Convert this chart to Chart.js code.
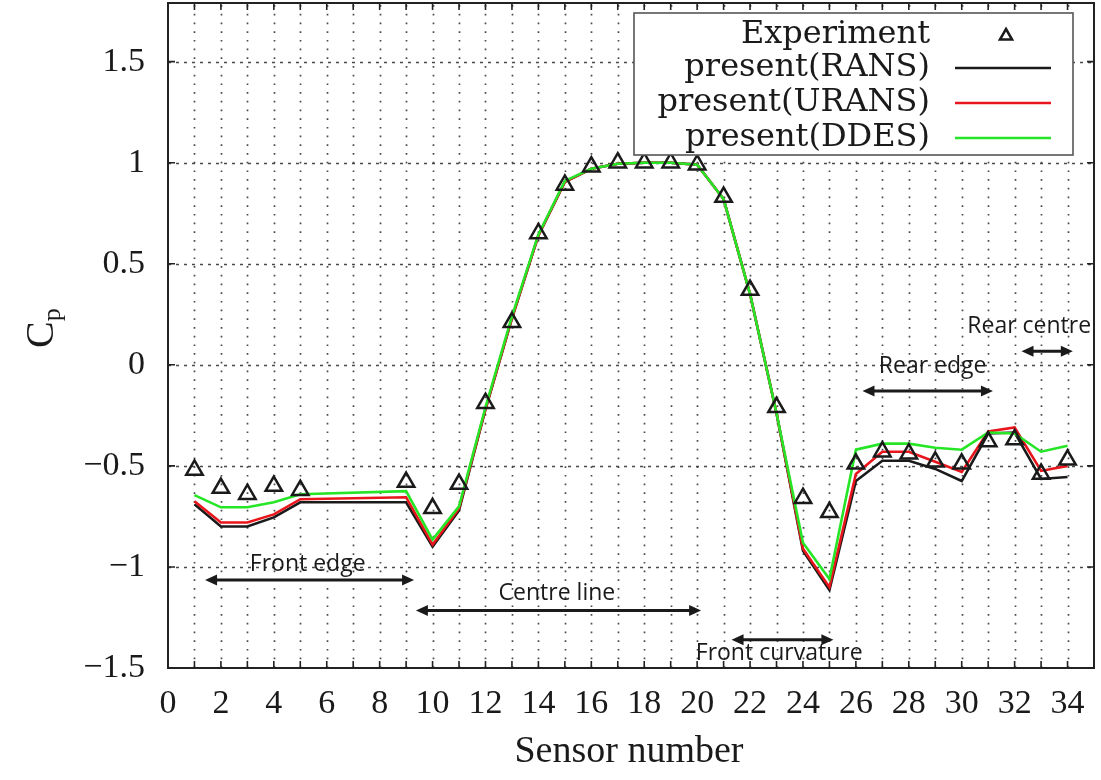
<!DOCTYPE html>
<html>
<head>
<meta charset="utf-8">
<script src="https://cdn.jsdelivr.net/npm/chart.js@4.4.1/dist/chart.umd.min.js"></script>
<style>
  html, body { margin: 0; padding: 0; background: #fff; }
  #wrap { width: 1101px; height: 780px; }
</style>
</head>
<body>
<div id="wrap"><canvas id="c" width="1101" height="780"></canvas></div>
<script>
// Pressure coefficient along the sensor line
const sensors    = [1, 2, 3, 4, 5, 9, 10, 11, 12, 13, 14, 15, 16, 17, 18, 19, 20, 21, 22, 23, 24, 25, 26, 27, 28, 29, 30, 31, 32, 33, 34];
const experiment = [-0.52, -0.61, -0.64, -0.60, -0.62, -0.58, -0.71, -0.59, -0.19, 0.21, 0.65, 0.89, 0.98, 1.0, 1.0, 1.0, 0.99, 0.83, 0.37, -0.21, -0.66, -0.73, -0.49, -0.43, -0.44, -0.48, -0.49, -0.38, -0.37, -0.54, -0.47];
const rans       = [-0.69, -0.80, -0.80, -0.755, -0.68, -0.68, -0.90, -0.72, -0.22, 0.23, 0.64, 0.905, 0.97, 0.995, 1.0, 1.0, 0.99, 0.82, 0.35, -0.24, -0.92, -1.115, -0.575, -0.475, -0.475, -0.515, -0.575, -0.34, -0.335, -0.565, -0.555];
const urans      = [-0.675, -0.78, -0.78, -0.74, -0.665, -0.655, -0.89, -0.71, -0.22, 0.23, 0.64, 0.905, 0.97, 0.995, 1.0, 1.0, 0.99, 0.82, 0.35, -0.24, -0.91, -1.10, -0.54, -0.43, -0.43, -0.48, -0.53, -0.33, -0.31, -0.525, -0.50];
const ddes       = [-0.645, -0.705, -0.705, -0.68, -0.64, -0.625, -0.865, -0.70, -0.21, 0.24, 0.645, 0.91, 0.97, 0.995, 1.0, 1.0, 0.99, 0.82, 0.35, -0.24, -0.88, -1.06, -0.42, -0.39, -0.39, -0.41, -0.42, -0.335, -0.34, -0.43, -0.40];

const xTickValues = [0, 2, 4, 6, 8, 10, 12, 14, 16, 18, 20, 22, 24, 26, 28, 30, 32, 34];
const yTickValues = [-1.5, -1, -0.5, 0, 0.5, 1, 1.5];
const seriesNames = ['Experiment', 'present(RANS)', 'present(URANS)', 'present(DDES)'];

// Sensor groups: label and span (in sensor number / Cp units)
const regions = [
  { text: 'Front edge',      tx: 5.28,  ty: -0.99, x0: 1.4,   x1: 9.3,   ay: -1.065 },
  { text: 'Centre line',     tx: 14.7,  ty: -1.13, x0: 9.37,  x1: 20.15, ay: -1.215 },
  { text: 'Front curvature', tx: 23.1,  ty: -1.43, x0: 21.3,  x1: 25.15, ay: -1.36 },
  { text: 'Rear edge',       tx: 28.9,  ty: -0.01, x0: 26.25, x1: 31.18, ay: -0.13 },
  { text: 'Rear centre',     tx: 32.55, ty: 0.19,  x0: 32.26, x1: 34.2,  ay: 0.067 }
];

const COL_EXP = '#1a1a1a';
const COL_RANS = '#1a1a1a';
const COL_URANS = '#e8161c';
const COL_DDES = '#26e526';

const pts = arr => sensors.map((s, i) => ({ x: s, y: arr[i] }));
const fmt = v => (v < 0 ? '\u2212' : '') + String(Math.abs(v));

function arrowHead(ctx, x, y, dir) {
  ctx.beginPath();
  ctx.moveTo(x, y);
  ctx.lineTo(x - dir * 12, y - 5.5);
  ctx.lineTo(x - dir * 12, y + 5.5);
  ctx.closePath();
  ctx.fill();
}

const decor = {
  id: 'decor',
  beforeDatasetsDraw(chart) {
    const { ctx, chartArea: a, scales: { x, y } } = chart;
    ctx.save();
    ctx.strokeStyle = '#4a4a4a';
    ctx.lineWidth = 1.7;
    // vertical dotted grid at every sensor
    ctx.setLineDash([1.7, 7]);
    for (let v = 1; v < 35; v++) {
      const px = Math.round(x.getPixelForValue(v)) + 0.5;
      ctx.beginPath(); ctx.moveTo(px, a.bottom); ctx.lineTo(px, a.top); ctx.stroke();
    }
    // horizontal dashed grid
    ctx.setLineDash([3, 5]);
    for (const v of yTickValues) {
      if (v <= -1.5) continue;
      const py = Math.round(y.getPixelForValue(v)) + 0.5;
      ctx.beginPath(); ctx.moveTo(a.left, py); ctx.lineTo(a.right, py); ctx.stroke();
    }
    ctx.restore();
  },
  afterDatasetsDraw(chart) {
    const { ctx, chartArea: a, scales: { x, y } } = chart;
    ctx.save();
    // frame
    ctx.strokeStyle = '#222';
    ctx.lineWidth = 2;
    ctx.strokeRect(a.left, a.top, a.right - a.left, a.bottom - a.top);
    // inward tick marks
    ctx.lineWidth = 1.6;
    for (let v = 0; v <= 35; v++) {
      const px = x.getPixelForValue(v);
      ctx.beginPath();
      ctx.moveTo(px, a.bottom); ctx.lineTo(px, a.bottom - 7);
      ctx.moveTo(px, a.top); ctx.lineTo(px, a.top + 7);
      ctx.stroke();
    }
    for (const v of yTickValues) {
      const py = y.getPixelForValue(v);
      ctx.beginPath();
      ctx.moveTo(a.left, py); ctx.lineTo(a.left + 7, py);
      ctx.moveTo(a.right, py); ctx.lineTo(a.right - 7, py);
      ctx.stroke();
    }

    // sensor-group arrows and labels
    ctx.fillStyle = '#1a1a1a';
    ctx.strokeStyle = '#1a1a1a';
    ctx.lineWidth = 3;
    ctx.font = '23px "Open Sans", "Noto Sans", sans-serif';
    ctx.textAlign = 'center';
    ctx.textBaseline = 'middle';
    for (const r of regions) {
      const x0 = x.getPixelForValue(r.x0), x1 = x.getPixelForValue(r.x1);
      const ay = y.getPixelForValue(r.ay);
      ctx.beginPath(); ctx.moveTo(x0 + 8, ay); ctx.lineTo(x1 - 8, ay); ctx.stroke();
      arrowHead(ctx, x0, ay, -1);
      arrowHead(ctx, x1, ay, 1);
      ctx.fillText(r.text, x.getPixelForValue(r.tx), y.getPixelForValue(r.ty));
    }

    // legend box
    const bx = a.right - 460, by = a.top + 10, bw = 439, bh = 142;
    ctx.fillStyle = '#fff';
    ctx.fillRect(bx, by, bw, bh);
    ctx.strokeStyle = '#555';
    ctx.lineWidth = 1.6;
    ctx.strokeRect(bx, by, bw, bh);
    ctx.font = '32px "DejaVu Serif", "Liberation Serif", serif';
    ctx.textAlign = 'right';
    ctx.textBaseline = 'middle';
    ctx.fillStyle = '#1a1a1a';
    const rowsY = [by + 22, by + 55, by + 90, by + 125];
    const textX = bx + 296, s0 = bx + 321, s1 = bx + 417;
    seriesNames.forEach((name, i) => ctx.fillText(name, textX, rowsY[i]));
    // experiment marker (open triangle)
    ctx.fillStyle = 'rgba(255,255,255,0)';
    ctx.lineWidth = 2.5;
    ctx.strokeStyle = COL_EXP;
    Chart.helpers.drawPoint(ctx, { pointStyle: 'triangle', radius: 7, borderWidth: 2.5 }, (s0 + s1) / 2 + 3, rowsY[0] + 1);
    [COL_RANS, COL_URANS, COL_DDES].forEach((c, i) => {
      ctx.strokeStyle = c;
      ctx.lineWidth = 2.5;
      ctx.beginPath(); ctx.moveTo(s0, rowsY[i + 1]); ctx.lineTo(s1, rowsY[i + 1]); ctx.stroke();
    });

    // axis titles
    ctx.fillStyle = '#1a1a1a';
    ctx.textAlign = 'center';
    ctx.textBaseline = 'middle';
    ctx.font = '38px "Liberation Serif", serif';
    ctx.fillText('Sensor number', (a.left + a.right) / 2 - 2, 752);
    ctx.translate(40, 330);
    ctx.rotate(-Math.PI / 2);
    ctx.textAlign = 'left';
    ctx.textBaseline = 'alphabetic';
    ctx.font = '40px "Liberation Serif", serif';
    const cw = ctx.measureText('C').width;
    ctx.fillText('C', -18, 13);
    ctx.font = '26px "Liberation Serif", serif';
    ctx.fillText('p', -18 + cw, 20);
    ctx.restore();
  }
};

const zeroPad = s => { s.paddingLeft = 0; s.paddingRight = 0; s.paddingTop = 0; s.paddingBottom = 0; };

new Chart(document.getElementById('c'), {
  type: 'scatter',
  data: {
    datasets: [
      { label: seriesNames[0], data: pts(experiment), showLine: false, pointStyle: 'triangle',
        pointRadius: 9.5, pointBorderWidth: 2.5, pointBorderColor: COL_EXP,
        pointBackgroundColor: 'rgba(255,255,255,0)', order: 0 },
      { label: seriesNames[3], data: pts(ddes), showLine: true, borderColor: COL_DDES, borderWidth: 2.6,
        pointRadius: 0, tension: 0, order: 1 },
      { label: seriesNames[2], data: pts(urans), showLine: true, borderColor: COL_URANS, borderWidth: 2.6,
        pointRadius: 0, tension: 0, order: 2 },
      { label: seriesNames[1], data: pts(rans), showLine: true, borderColor: COL_RANS, borderWidth: 2.6,
        pointRadius: 0, tension: 0, order: 3 }
    ]
  },
  options: {
    responsive: false,
    animation: false,
    events: [],
    layout: { autoPadding: false, padding: { top: 3, right: 7, left: 0, bottom: 0 } },
    plugins: { legend: { display: false }, tooltip: { enabled: false } },
    scales: {
      x: {
        type: 'linear', min: 0, max: 35,
        grid: { display: false, drawTicks: false },
        border: { display: false },
        afterBuildTicks: s => { s.ticks = xTickValues.map(v => ({ value: v })); },
        afterFit: s => { s.height = 112; zeroPad(s); },
        ticks: {
          autoSkip: false, maxRotation: 0, padding: 16, color: '#1a1a1a',
          font: { family: '"Liberation Serif", serif', size: 34 },
          callback: v => fmt(v)
        }
      },
      y: {
        type: 'linear', min: -1.5, max: 1.79,
        grid: { display: false, drawTicks: false },
        border: { display: false },
        afterBuildTicks: s => { s.ticks = yTickValues.map(v => ({ value: v })); },
        afterFit: s => { s.width = 168; zeroPad(s); },
        ticks: {
          padding: 23, color: '#1a1a1a',
          font: { family: '"Liberation Serif", serif', size: 34 },
          callback: v => fmt(v)
        }
      }
    }
  },
  plugins: [decor]
});
</script>
</body>
</html>
